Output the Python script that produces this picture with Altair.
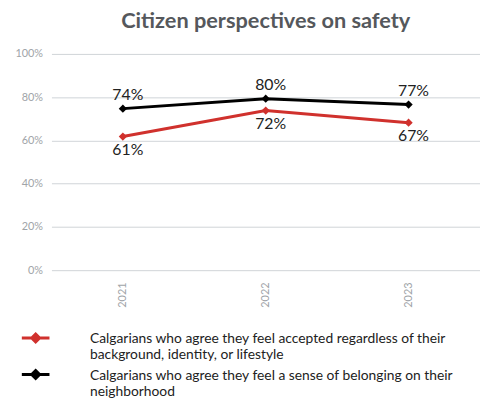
import json
import altair as alt
import pandas as pd

years = ["2021", "2022", "2023"]
series_names = [
    "Calgarians who agree they feel accepted regardless of their background, identity, or lifestyle",
    "Calgarians who agree they feel a sense of belonging on their neighborhood",
]
accepted_values = [61.8, 73.8, 68.2]
belonging_values = [74.7, 79.3, 76.6]
accepted_labels = ["61%", "72%", "67%"]
belonging_labels = ["74%", "80%", "77%"]
legend_lines = {
    series_names[0]: ["Calgarians who agree they feel accepted regardless of their", "background, identity, or lifestyle"],
    series_names[1]: ["Calgarians who agree they feel a sense of belonging on their", "neighborhood"],
}
colors = ["#d0312d", "#000000"]

rows = []
for y, v, l in zip(years, accepted_values, accepted_labels):
    rows.append({"year": y, "value": v, "label": l, "series": series_names[0]})
for y, v, l in zip(years, belonging_values, belonging_labels):
    rows.append({"year": y, "value": v, "label": l, "series": series_names[1]})
df = pd.DataFrame(rows)

label_expr = " : ".join(
    [f"datum.label == {json.dumps(k)} ? {json.dumps(v)}" for k, v in legend_lines.items()]
) + " : datum.label"

FONT = "Lato"

x = alt.X("year:N", sort=years, title=None,
          scale=alt.Scale(paddingInner=0, paddingOuter=0.5),
          axis=alt.Axis(labelAngle=-90, labelColor="#a0a4a8", labelFontSize=11, labelFont=FONT,
                        ticks=False, domain=False, labelPadding=12, grid=False))
y = alt.Y("value:Q", title=None,
          scale=alt.Scale(domain=[0, 100]),
          axis=alt.Axis(values=[0, 20, 40, 60, 80, 100], labelExpr="datum.value + '%'",
                        labelColor="#a0a4a8", labelFontSize=11, labelFont=FONT,
                        ticks=False, domain=False, labelPadding=9,
                        gridColor="#cfd3d7", gridWidth=1))

# legend symbol: a short line with a diamond in its middle (unit coords scaled by 2px)
symbol_path = "M-7,2.85L7,2.85M0,0.85L2,2.85L0,4.85L-2,2.85Z"

color = alt.Color("series:N", sort=series_names,
                  scale=alt.Scale(domain=series_names, range=colors),
                  legend=alt.Legend(title=None, orient="none", legendX=-23, legendY=275,
                                    direction="vertical", labelExpr=label_expr,
                                    labelFont=FONT, labelFontSize=14, labelColor="#222222",
                                    labelLimit=0, labelOffset=48, rowPadding=0,
                                    labelBaseline="top",
                                    symbolType=symbol_path,
                                    symbolSize=16, symbolStrokeWidth=3))

lines = alt.Chart(df).mark_line(strokeWidth=3, point=alt.OverlayMarkDef(shape="diamond", size=70, filled=True)).encode(
    x=x, y=y, color=color)

text_accepted = alt.Chart(df[df.series == series_names[0]]).mark_text(
    fontSize=16, font=FONT, color="#222222", dx=5, dy=14, baseline="middle").encode(x=x, y=y, text="label:N")
text_belonging = alt.Chart(df[df.series == series_names[1]]).mark_text(
    fontSize=16, font=FONT, color="#222222", dx=5, dy=-14, baseline="middle").encode(x=x, y=y, text="label:N")

chart = alt.layer(lines, text_accepted, text_belonging).properties(
    width=434, height=219,
    title=alt.TitleParams("Citizen perspectives on safety", font=FONT, fontSize=22, fontWeight="bold",
                          color="#55585c", anchor="middle", offset=15),
    autosize=alt.AutoSizeParams(type="none"),
    padding={"left": 44, "top": 44, "right": 0, "bottom": 130},
).configure_view(stroke=None)

chart.save("out.html", embed_options={"renderer": "svg", "actions": False})
